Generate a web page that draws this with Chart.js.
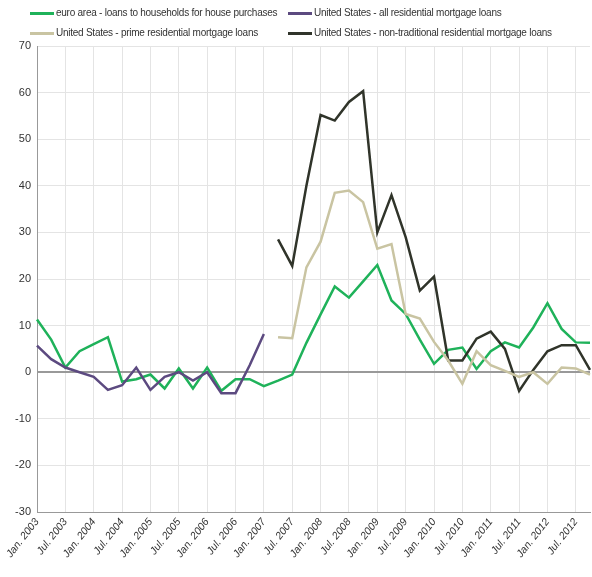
<!DOCTYPE html>
<html><head><meta charset="utf-8">
<script src="https://cdn.jsdelivr.net/npm/chart.js@4"></script>
<style>
html,body{margin:0;padding:0;background:#fff;}
#wrap{position:relative;width:592px;height:577px;}
.lg{position:absolute;font:10px "Liberation Sans",Arial,sans-serif;letter-spacing:-0.25px;color:#333;white-space:nowrap;}
.lg span{display:inline-block;width:24px;height:2.5px;vertical-align:middle;margin-right:2px;}
</style></head><body>
<div id="wrap"><canvas id="c" width="592" height="577"></canvas>
<div class="lg" style="left:30px;top:7px"><span style="background:#1fb25a"></span>euro area - loans to households for house purchases</div>
<div class="lg" style="left:288px;top:7px"><span style="background:#5c4a80"></span>United States - all residential mortgage loans</div>
<div class="lg" style="left:30px;top:27px"><span style="background:#c9c4a2"></span>United States - prime residential mortgage loans</div>
<div class="lg" style="left:288px;top:27px"><span style="background:#30342a"></span>United States - non-traditional residential mortgage loans</div>
</div>
<script>
const years=[2003,2004,2005,2006,2007,2008,2009,2010,2011,2012];
const categories=[];
years.forEach(y=>{categories.push('Jan. '+y,'',"Jul. "+y,'');});
const euroArea=[11.3,7,1,4.5,6,7.5,-2,-1.5,-0.5,-3.5,0.8,-3.5,1,-4,-1.5,-1.5,-3,-1.8,-0.5,6.3,12.4,18.4,16,19.5,23,15.4,12.5,7,1.8,4.8,5.3,0.7,4.5,6.4,5.3,9.6,14.8,9.3,6.4,6.3];
const usAll=[5.7,2.8,1,0,-1,-3.8,-2.8,1,-3.8,-1,0,-1.8,0,-4.5,-4.5,1.5,8.2,null,null,null,null,null,null,null,null,null,null,null,null,null,null,null,null,null,null,null,null,null,null,null];
const usPrime=[null,null,null,null,null,null,null,null,null,null,null,null,null,null,null,null,null,7.5,7.3,22.5,28,38.5,39,36.5,26.5,27.5,12.5,11.5,6.5,2.5,-2.5,4.5,1.5,0.3,-1,0,-2.5,1,0.8,-0.5];
const usNonTrad=[null,null,null,null,null,null,null,null,null,null,null,null,null,null,null,null,null,28.5,22.8,40,55.2,54,58,60.3,30,38,29,17.5,20.5,2.5,2.5,7.2,8.7,5,-4,0.5,4.5,5.8,5.8,0.5];
const yTicks=[-30,-20,-10,0,10,20,30,40,50,60,70];
const ds=(d,c)=>({data:d,borderColor:c,borderWidth:2.5,pointRadius:0,fill:false,tension:0,spanGaps:false});
new Chart(document.getElementById('c'),{type:'line',
data:{labels:categories,datasets:[ds(usPrime,'#c9c4a2'),ds(usNonTrad,'#30342a'),ds(usAll,'#5c4a80'),ds(euroArea,'#1fb25a')]},
options:{responsive:false,animation:false,
layout:{padding:{top:46,right:2,left:0,bottom:0}},
plugins:{legend:{display:false},tooltip:{enabled:false}},
scales:{
x:{offset:false,grid:{color:c=>c.index%2==0?'#e4e4e4':'rgba(0,0,0,0)',drawTicks:false},border:{color:'#999'},
 ticks:{autoSkip:false,maxRotation:52,minRotation:52,color:'#333',font:{family:'Liberation Sans',size:10.5,style:'italic'},padding:4},
 afterFit:a=>{a.height=65;a.paddingRight=0;a.paddingLeft=0;}},
y:{min:-30,max:70,afterBuildTicks:a=>{a.ticks=yTicks.map(v=>({value:v}));},
 grid:{color:c=>c.tick.value===0?'#999':'#e4e4e4',lineWidth:c=>c.tick.value===0?2:1,drawTicks:false},border:{color:'#999'},
 ticks:{color:'#333',font:{family:'Liberation Sans',size:11},padding:6},afterFit:a=>{a.width=37;a.paddingTop=0;a.paddingBottom=0;}}
}}});
</script></body></html>
